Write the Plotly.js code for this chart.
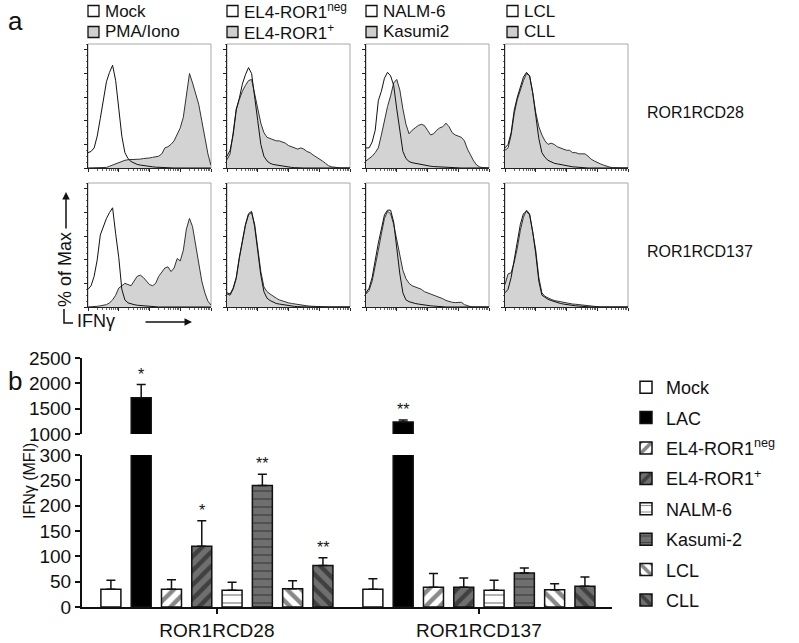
<!DOCTYPE html>
<html>
<head>
<meta charset="utf-8">
<script src="https://cdn.plot.ly/plotly-3.0.1.min.js"></script>
<style>html,body{margin:0;padding:0;background:#fff;}#chart{width:799px;height:643px;}</style>
</head>
<body>
<div id="chart"></div>
<script>
// ---------- Panel a: flow histograms (IFN-gamma, decades of fluorescence) ----------
const decades = [0,0.1,0.2,0.3,0.4,0.5,0.6,0.7,0.8,0.9,1.0,1.1,1.2,1.3,1.4,1.5,1.6,1.7,1.8,1.9,2.0,2.1,2.2,2.3,2.4,2.5,2.6,2.7,2.8,2.9,3.0,3.1,3.2,3.3,3.4,3.5,3.6,3.7,3.8,3.9,4.0];

// ROR1RCD28 row (% of max)
const mock28   = [13,14,17,27,42,57,73,81,87,74,52,27,13,8,5.5,4,3,2.5,2,1.5,1.2,1,0.7,0.5,0.3,0.2,0,0,0,0,0,0,0,0,0,0,0,0,0,0,0];
const pma28    = [0,0,0,0,0,0,0.5,1.5,2.5,4,5,6,6.5,7,7,7,7.5,7.5,8,8,8.5,9,9.5,10,12,17,18,20,23,28,34,43,63,80,72,64,54,40,26,12,2];
const el4neg28 = [10,15,28,49,59,71,79,85,80,62,40,20,10,6,4,3,2.5,2,1.5,1,0.8,0.5,0.3,0,0,0,0,0,0,0,0,0,0,0,0,0,0,0,0,0,0];
const el4pos28 = [7,12,30,50,58,65,70,74,75,62,49,38,30,26,25,24,23,23,22,21,19,18,17,16,17,16,14,13,11,9.5,8,6,4,2,1,0.5,0,0,0,0,0];
const nalm28   = [17,17,22,32,57,65,76,81,78,70,50,30,14,8,5.5,4.5,4,3,2.5,2,2,1.5,1.2,1,1,0.8,0.6,0.5,0.4,0.3,0,0,0,0,0,0,0,0,0,0,0];
const kasumi28 = [6,8,10,13,17,28,40,52,61,72,75,66,50,37,29,32,34,36,37,36,32,28,29,32,34,35,38,35,30,28,27,26,23,16,11,6,2.5,0.8,0.3,0,0];
const lcl28    = [17,20,30,49,60,69,77,81,78,64,44,25,13,9,6.5,5,4,3.5,3,2,1.5,1.2,1,0.8,0.5,0.3,0,0,0,0,0,0,0,0,0,0,0,0,0,0,0];
const cll28    = [15,17,28,46,58,67,74,80,78,64,47,35,28,23,20,21,20,18,17,16,15,15,13,13,12,12,12,10,7.5,6,4.5,3.5,2.5,1.5,0.8,0.3,0,0,0,0,0];

// ROR1RCD137 row (% of max)
const mock137   = [15,18,26,40,61,68,75,80,84,62,42,15,6,3.5,2.5,2,1.5,1.2,1,0.8,0.5,0.3,0,0,0,0,0,0,0,0,0,0,0,0,0,0,0,0,0,0,0];
const pma137    = [0,0,0.3,0.6,1,1.5,2,3.5,6,10,16,18,20,19,18,22,26,27,25,22,19,18,20,26,30,33,34,30,33,41,39,48,66,75,68,52,36,22,12,5,1.5];
const el4neg137 = [12,11,16,25,42,57,70,79,81,68,48,27,13,7.5,5.5,4,3,2.5,2,1.5,1,0.8,0.5,0.3,0,0,0,0,0,0,0,0,0,0,0,0,0,0,0,0,0];
const el4pos137 = [11,10,15,24,41,56,69,78,80,70,50,30,17,13,11,9,7.5,6,5,4,3.5,3,2.5,2,1.5,1.2,1,0.7,0.5,0.3,0.2,0,0,0,0,0,0,0,0,0,0];
const nalm137   = [12,16,25,40,54,66,78,82,82,72,50,28,12,6,4.5,3.5,3,2.5,2,1.5,1.2,1,0.8,0.5,0.3,0,0,0,0,0,0,0,0,0,0,0,0,0,0,0,0];
const kasumi137 = [11,14,22,34,48,62,75,81,79,70,56,43,31,24,20,18,17,16,15,13,12,11,10,9.5,8,7,5.5,4.5,4,3.7,4,4,2,1,0.3,0,0,0,0,0,0];
const lcl137    = [12,15,25,40,55,70,79,81,78,64,45,22,10,8,6.5,5.5,4.5,4,3,2.5,2,1.5,1.2,1,0.8,0.5,0.3,0,0,0,0,0,0,0,0,0,0,0,0,0,0];
const cll137    = [19,28,29,38,50,65,76,82,79,65,48,25,12,9,7.5,6.5,5.5,5,4,3.5,3,2.7,2.5,2.3,2,1.5,1,0.7,0.5,0.3,0,0,0,0,0,0,0,0,0,0,0];

const rowLabels = ['ROR1RCD28','ROR1RCD137'];
const legendTop = ['Mock','EL4-ROR1<sup>neg</sup>','NALM-6','LCL'];
const legendBottom = ['PMA/Iono','EL4-ROR1<sup>+</sup>','Kasumi2','CLL'];

// ---------- Panel b: IFN-gamma MFI bars ----------
const constructs = ['ROR1RCD28','ROR1RCD137'];
const cellLines = ['Mock','LAC','EL4-ROR1<sup>neg</sup>','EL4-ROR1<sup>+</sup>','NALM-6','Kasumi-2','LCL','CLL'];
const mfiCD28  = [35,1715,35,120,33,240,36,82];
const errCD28  = [18,260,19,50,16,22,16,15];
const mfiCD137 = [35,1235,39,39,33,67,34,41];
const errCD137 = [21,40,27,18,20,10,12,18];
const sigCD28  = ['','*','','*','','**','','**'];
const sigCD137 = ['','**','','','','','',''];

// ---------- drawing ----------
const W = 799, H = 643;
const px = v => v / W;
const py = v => 1 - v / H;
const FONT = 'Liberation Sans, Arial, Helvetica, sans-serif';
const GRAY = '#6f6f6f';

const openCurves = [[mock28, el4neg28, nalm28, lcl28],[mock137, el4neg137, nalm137, lcl137]];
const filledCurves = [[pma28, el4pos28, kasumi28, cll28],[pma137, el4pos137, kasumi137, cll137]];

const colLeft = [88, 227, 366, 505];
const panelW = 123;
const rowTop = [44, 183];
const panelH = 124;

const minorX = [];
for (let k = 0; k < 4; k++) for (let m = 2; m <= 9; m++) minorX.push(k + Math.log10(m));

const traces = [];
const layout = {
  width: W, height: H,
  margin: {l: 0, r: 0, t: 0, b: 0},
  paper_bgcolor: 'white', plot_bgcolor: 'rgba(0,0,0,0)',
  font: {family: FONT, color: '#111'},
  showlegend: true,
  barmode: 'group', bargap: 0.075, bargroupgap: 0.34,
  shapes: [], annotations: []
};

function note(x, y, text, size, extra) {
  return Object.assign({xref: 'paper', yref: 'paper', x: px(x), y: py(y), xanchor: 'center', yanchor: 'middle',
    text: text, showarrow: false, font: {size: size, family: FONT, color: '#111'}}, extra || {});
}

for (let r = 0; r < 2; r++) {
  for (let c = 0; c < 4; c++) {
    const n = r * 4 + c + 1;
    const xa = 'x' + (n === 1 ? '' : n), ya = 'y' + (n === 1 ? '' : n);
    traces.push({type: 'scatter', mode: 'lines', x: decades, y: filledCurves[r][c], xaxis: xa, yaxis: ya,
      fill: 'tozeroy', fillcolor: '#d3d3d3', line: {color: '#333', width: 1}, showlegend: false, hoverinfo: 'skip'});
    traces.push({type: 'scatter', mode: 'lines', x: decades, y: openCurves[r][c], xaxis: xa, yaxis: ya,
      line: {color: '#111', width: 1}, showlegend: false, hoverinfo: 'skip'});
    const xk = 'xaxis' + (n === 1 ? '' : n), yk = 'yaxis' + (n === 1 ? '' : n);
    layout[xk] = {domain: [px(colLeft[c]), px(colLeft[c] + panelW)], anchor: ya, range: [0, 4],
      showline: true, linecolor: '#222', linewidth: 1, ticks: 'outside', ticklen: 3, tickwidth: 1, tickcolor: '#222',
      tickvals: [0,1,2,3,4], showticklabels: false, showgrid: false, zeroline: false, fixedrange: true,
      minor: {ticks: 'outside', ticklen: 1.5, tickwidth: 0.8, tickcolor: '#444', tickvals: minorX, showgrid: false}};
    layout[yk] = {domain: [py(rowTop[r] + panelH), py(rowTop[r])], anchor: xa, range: [0, 105],
      showline: true, linecolor: '#222', linewidth: 1, ticks: 'outside', ticklen: 3, tickwidth: 1, tickcolor: '#222',
      tickvals: [0,20,40,60,80,100], showticklabels: false, showgrid: false, zeroline: false, fixedrange: true,
      minor: {ticks: 'outside', ticklen: 1.5, tickwidth: 0.8, tickcolor: '#444', dtick: 5, showgrid: false}};
    layout.shapes.push({type: 'rect', xref: xa + ' domain', yref: ya + ' domain', x0: 0, x1: 1, y0: 0, y1: 1,
      line: {color: '#a8a8a8', width: 1}, layer: 'below'});
  }
  layout.annotations.push(note(645, rowTop[r] + 69, rowLabels[r], 16, {xanchor: 'left'}));
}

// panel a legend
for (let c = 0; c < 4; c++) {
  const bx = colLeft[c] + (c === 3 ? 2 : 0);
  [[legendTop, 11, 'white'], [legendBottom, 32, '#cfcfcf']].forEach(([labels, cy, fill]) => {
    layout.shapes.push({type: 'rect', xref: 'paper', yref: 'paper', x0: px(bx), x1: px(bx + 11), y0: py(cy + 5.5), y1: py(cy - 5.5),
      line: {color: '#111', width: 1.3}, fillcolor: fill});
    layout.annotations.push(note(bx + 15, cy, labels[c], 17, {xanchor: 'left'}));
  });
}
layout.annotations.push(note(15, 21, 'a', 26));
layout.annotations.push(note(15, 381, 'b', 26));
// % of Max label with arrow
layout.annotations.push(note(65, 270, '% of Max', 18, {textangle: -90}));
layout.annotations.push({xref: 'paper', yref: 'paper', x: px(66), y: py(192), ax: 0, ay: 38, axref: 'pixel', ayref: 'pixel',
  text: '', showarrow: true, arrowhead: 2, arrowsize: 1, arrowwidth: 1.5, arrowcolor: '#111'});
layout.annotations.push(note(75, 321, 'IFNγ', 18, {xanchor: 'left'}));
layout.annotations.push({xref: 'paper', yref: 'paper', x: px(192), y: py(322), ax: -48, ay: 0, axref: 'pixel', ayref: 'pixel',
  text: '', showarrow: true, arrowhead: 2, arrowsize: 1, arrowwidth: 1.5, arrowcolor: '#111'});
layout.shapes.push({type: 'path', xref: 'paper', yref: 'paper',
  path: `M ${px(64)} ${py(309)} L ${px(64)} ${py(323)} L ${px(73)} ${py(323)}`, line: {color: '#111', width: 1.5}});

// panel b bars
const barFill = ['white','black','white',GRAY,'white',GRAY,'white',GRAY];
const barShape = ['','','/','/','-','-','\\','\\'];
const barSize = [8,8,10,10,8,8,10,10];
const barSolid = [0.3,0.3,0.45,0.45,0.16,0.16,0.45,0.45];
cellLines.forEach((name, i) => {
  const marker = {color: barFill[i], line: {color: '#111', width: 1.5}};
  if (barShape[i]) marker.pattern = {shape: barShape[i], fgcolor: '#111', bgcolor: barFill[i], fillmode: 'overlay', size: barSize[i], solidity: barSolid[i]};
  const err = {type: 'data', symmetric: false, array: [errCD28[i], errCD137[i]], arrayminus: [0, 0], color: '#111', thickness: 1.5, width: 4.5};
  traces.push({type: 'bar', name: name, x: constructs, y: [mfiCD28[i], mfiCD137[i]], xaxis: 'x9', yaxis: 'y9',
    marker: marker, error_y: err, legendgroup: 'g' + i, hoverinfo: 'skip'});
  traces.push({type: 'bar', name: name, x: constructs, y: [mfiCD28[i], mfiCD137[i]], xaxis: 'x9', yaxis: 'y10',
    marker: marker, error_y: err, legendgroup: 'g' + i, showlegend: false, hoverinfo: 'skip'});
});

const AX = {showline: true, linecolor: '#111', linewidth: 2, ticks: 'outside', tickcolor: '#111', tickwidth: 2,
  showgrid: false, zeroline: false, fixedrange: true};
layout.xaxis9 = Object.assign({}, AX, {domain: [px(82), px(612)], anchor: 'y9', type: 'category', categoryarray: constructs,
  range: [-0.515, 1.508], ticklen: 5, tickfont: {size: 19, family: FONT, color: '#111'}});
layout.yaxis9 = Object.assign({}, AX, {domain: [py(607), py(455)], anchor: 'x9', range: [0, 300], tickvals: [0,50,100,150,200,250,300],
  ticklen: 5, tickfont: {size: 19, family: FONT, color: '#111'}});
layout.yaxis10 = Object.assign({}, AX, {domain: [py(434), py(358)], anchor: 'x9', range: [1000, 2500], tickvals: [1000,1500,2000,2500],
  ticklen: 5, tickfont: {size: 19, family: FONT, color: '#111'}});
layout.annotations.push(note(29, 481, 'IFNγ (MFI)', 16, {textangle: -90}));

// significance marks
const slot = (1 - layout.bargap) / cellLines.length;
[[mfiCD28, errCD28, sigCD28], [mfiCD137, errCD137, sigCD137]].forEach(([vals, errs, sig], g) => {
  sig.forEach((s, i) => {
    if (!s) return;
    const top = vals[i] + errs[i];
    layout.annotations.push({xref: 'x9', yref: top > 300 ? 'y10' : 'y9', x: g - (1 - layout.bargap) / 2 + slot * (i + 0.5), y: top,
      xanchor: 'center', yanchor: 'bottom', text: s, showarrow: false, font: {size: 16, family: FONT, color: '#111'}});
  });
});

layout.legend = {x: px(626), y: py(369), xanchor: 'left', yanchor: 'top', bgcolor: 'rgba(0,0,0,0)',
  font: {size: 18, family: FONT, color: '#111'}, tracegroupgap: 4, itemclick: false, itemdoubleclick: false};

Plotly.newPlot('chart', traces, layout, {staticPlot: true, displayModeBar: false});
</script>
</body>
</html>
